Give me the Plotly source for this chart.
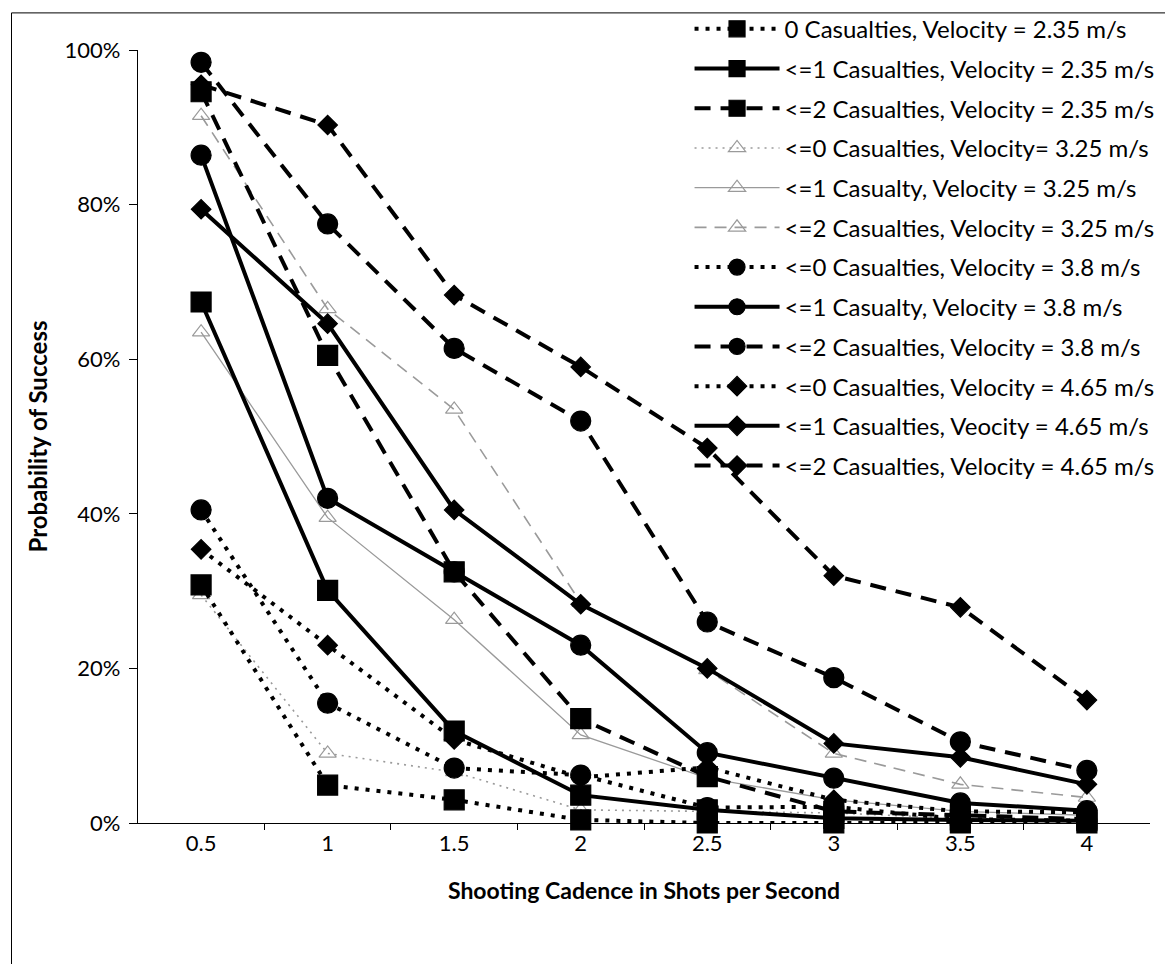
import plotly.graph_objects as go

cadence = ["0.5", "1", "1.5", "2", "2.5", "3", "3.5", "4"]

names = [
    "0 Casualties, Velocity = 2.35 m/s",
    "<=1 Casualties, Velocity = 2.35 m/s",
    "<=2 Casualties, Velocity = 2.35 m/s",
    "<=0 Casualties, Velocity= 3.25 m/s",
    "<=1 Casualty, Velocity = 3.25 m/s",
    "<=2 Casualties, Velocity = 3.25 m/s",
    "<=0 Casualties, Velocity = 3.8 m/s",
    "<=1 Casualty, Velocity = 3.8 m/s",
    "<=2 Casualties, Velocity = 3.8 m/s",
    "<=0 Casualties, Velocity = 4.65 m/s",
    "<=1 Casualties, Veocity = 4.65 m/s",
    "<=2 Casualties, Velocity = 4.65 m/s",
]

v235_c0 = [30.8, 4.9, 3.0, 0.4, 0.0, 0.0, 0.0, 0.0]
v235_c1 = [67.4, 30.1, 11.9, 3.6, 1.7, 0.6, 0.4, 0.3]
v235_c2 = [94.6, 60.5, 32.5, 13.5, 6.0, 1.5, 1.0, 0.5]
v325_c0 = [29.5, 9.0, 6.6, 1.7, 1.5, 1.3, 0.6, 0.3]
v325_c1 = [63.5, 39.5, 26.3, 11.4, 5.8, 3.0, 1.5, 1.0]
v325_c2 = [91.5, 66.5, 53.5, 28.5, 19.8, 9.0, 5.0, 3.3]
v38_c0 = [40.5, 15.5, 7.1, 6.2, 2.0, 2.1, 0.5, 0.3]
v38_c1 = [86.4, 42.0, 32.5, 23.0, 9.1, 5.8, 2.6, 1.6]
v38_c2 = [98.4, 77.5, 61.4, 52.0, 26.0, 18.8, 10.5, 6.8]
v465_c0 = [35.4, 23.0, 10.8, 5.9, 7.2, 3.0, 1.5, 1.4]
v465_c1 = [79.4, 64.6, 40.5, 28.3, 20.0, 10.3, 8.5, 5.0]
v465_c2 = [95.5, 90.3, 68.3, 59.0, 48.5, 32.0, 27.9, 15.9]

series = [v235_c0, v235_c1, v235_c2, v325_c0, v325_c1, v325_c2,
          v38_c0, v38_c1, v38_c2, v465_c0, v465_c1, v465_c2]

DOT = "4px,7px"
DASH = "16px,10px"
styles = [
    dict(dash=DOT, sym="square", col="black", w=4, ms=20),
    dict(dash="solid", sym="square", col="black", w=4, ms=20),
    dict(dash=DASH, sym="square", col="black", w=4, ms=20),
    dict(dash="2px,5px", sym="triangle-up-open", col="#9a9a9a", w=1.6, ms=15),
    dict(dash="solid", sym="triangle-up-open", col="#9a9a9a", w=1.3, ms=15),
    dict(dash="12px,8px", sym="triangle-up-open", col="#9a9a9a", w=1.6, ms=15),
    dict(dash=DOT, sym="circle", col="black", w=4, ms=20),
    dict(dash="solid", sym="circle", col="black", w=4, ms=20),
    dict(dash=DASH, sym="circle", col="black", w=4, ms=20),
    dict(dash=DOT, sym="diamond", col="black", w=4, ms=15),
    dict(dash="solid", sym="diamond", col="black", w=4, ms=15),
    dict(dash=DASH, sym="diamond", col="black", w=4, ms=15),
]

draw_order = [3, 4, 5, 0, 1, 2, 6, 7, 8, 9, 10, 11]

fig = go.Figure()
for i in draw_order:
    s = styles[i]
    fig.add_trace(go.Scatter(
        x=cadence, y=series[i], name=names[i], mode="lines+markers",
        legendrank=i + 1, legendgroup=f"g{i}",
        line=dict(color=s["col"], width=s["w"], dash=s["dash"]),
        marker=dict(symbol=s["sym"], size=s["ms"], color=s["col"],
                    line=dict(color=s["col"], width=1.2)),
        cliponaxis=False,
    ))

FONT = "Lato, 'Open Sans', sans-serif"
fig.update_layout(
    width=1165, height=964,
    margin=dict(l=138, r=15, t=50, b=141, autoexpand=False),
    paper_bgcolor="white", plot_bgcolor="white",
    font=dict(family=FONT, size=22, color="black"),
    showlegend=True,
    legend=dict(
        x=0.545, xref="paper", y=0.993, yref="container",
        xanchor="left", yanchor="top", maxheight=700,
        bgcolor="rgba(0,0,0,0)", font=dict(size=24, family=FONT),
        traceorder="grouped", tracegroupgap=5.5, itemwidth=85,
    ),
    xaxis=dict(
        type="category", showline=True, linecolor="black", linewidth=1.2,
        ticks="outside", tickson="boundaries", ticklen=6, tickcolor="black",
        showgrid=False, zeroline=False,
        tickfont=dict(size=22),
        title=dict(text="<b>Shooting Cadence in Shots per Second</b>",
                   font=dict(size=23), standoff=28),
    ),
    yaxis=dict(
        range=[0, 100], dtick=20, ticksuffix="%", showline=True,
        linecolor="black", linewidth=1.2, ticks="outside", ticklen=8,
        tickcolor="black", showgrid=False, zeroline=False,
        tickfont=dict(size=22), ticklabelstandoff=4,
        title=dict(text="<b>Probability of Success</b>", font=dict(size=24),
                   standoff=10),
    ),
)

# outer chart frame (top and left edges visible in the reference)
fig.add_shape(type="line", xref="paper", yref="paper",
              x0=-0.125, x1=1.2, y0=1.048, y1=1.048,
              line=dict(color="black", width=1))
fig.add_shape(type="line", xref="paper", yref="paper",
              x0=-0.125, x1=-0.125, y0=1.048, y1=-0.3,
              line=dict(color="black", width=1))

fig.write_html("out.html")
